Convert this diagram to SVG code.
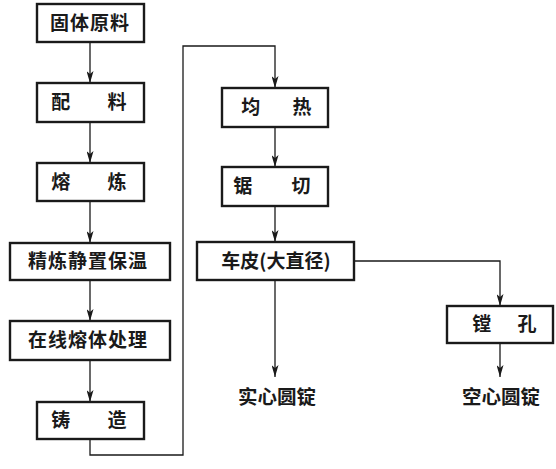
<svg xmlns="http://www.w3.org/2000/svg" width="556" height="469" viewBox="0 0 556 469">
<style>
.box{fill:#fff;stroke:#1a1a1a;stroke-width:2.4}
.ln{fill:none;stroke:#1a1a1a;stroke-width:1.3}
.t{font-family:"Noto Sans CJK SC","Noto Sans CJK TC",sans-serif;font-size:19px;font-weight:bold;fill:#1a1a1a;text-anchor:middle}
.o{font-family:"Noto Sans CJK SC",sans-serif;font-size:19.5px;font-weight:bold;fill:#1a1a1a;text-anchor:middle}
</style>
<defs>
<marker id="a" viewBox="0 0 12 7" refX="12" refY="3.5" markerWidth="12" markerHeight="7" markerUnits="userSpaceOnUse" orient="auto">
<path d="M0,0 L12,3.5 L0,7 L3,3.5 z" fill="#1a1a1a"/>
</marker>
</defs>
<g id="connectors">
<line class="ln" x1="90" y1="42" x2="90" y2="83" marker-end="url(#a)"/>
<line class="ln" x1="90" y1="122" x2="90" y2="163" marker-end="url(#a)"/>
<line class="ln" x1="90" y1="201" x2="90" y2="243" marker-end="url(#a)"/>
<line class="ln" x1="90" y1="280" x2="90" y2="321" marker-end="url(#a)"/>
<line class="ln" x1="90" y1="360" x2="90" y2="402" marker-end="url(#a)"/>
<polyline class="ln" points="90,439 90,455 183,455 183,46 275,46 275,88" marker-end="url(#a)"/>
<line class="ln" x1="275" y1="127" x2="275" y2="167" marker-end="url(#a)"/>
<line class="ln" x1="275" y1="206" x2="275" y2="242" marker-end="url(#a)"/>
<line class="ln" x1="275" y1="280" x2="275" y2="377" marker-end="url(#a)"/>
<polyline class="ln" points="354,261 500,261 500,306" marker-end="url(#a)"/>
<line class="ln" x1="500" y1="343" x2="500" y2="377" marker-end="url(#a)"/>
</g>
<g id="n1"><rect class="box" x="37" y="4" width="107" height="38"/><text class="t" x="90" y="30" letter-spacing="1">固体原料</text></g>
<g id="n2"><rect class="box" x="37" y="83" width="107" height="39"/><text class="t" y="109"><tspan x="63">配</tspan> <tspan x="117">料</tspan></text></g>
<g id="n3"><rect class="box" x="37" y="163" width="107" height="38"/><text class="t" y="189"><tspan x="63">熔</tspan> <tspan x="117">炼</tspan></text></g>
<g id="n4"><rect class="box" x="10" y="243" width="160" height="37"/><text class="t" x="88" y="268" letter-spacing="1">精炼静置保温</text></g>
<g id="n5"><rect class="box" x="10" y="321" width="160" height="39"/><text class="t" x="88" y="347" letter-spacing="1">在线熔体处理</text></g>
<g id="n6"><rect class="box" x="37" y="402" width="107" height="37"/><text class="t" y="427"><tspan x="63">铸</tspan> <tspan x="117">造</tspan></text></g>
<g id="n7"><rect class="box" x="222" y="88" width="106" height="39"/><text class="t" y="114"><tspan x="253">均</tspan> <tspan x="302">热</tspan></text></g>
<g id="n8"><rect class="box" x="222" y="167" width="106" height="39"/><text class="t" y="193"><tspan x="245">锯</tspan> <tspan x="301">切</tspan></text></g>
<g id="n9"><rect class="box" x="197" y="242" width="157" height="38"/><text class="t" x="276" y="268">车皮(大直径)</text></g>
<g id="n10"><rect class="box" x="447" y="306" width="106" height="37"/><text class="t" y="331"><tspan x="484">镗</tspan> <tspan x="527">孔</tspan></text></g>
<g id="n11"><text class="o" x="277" y="404">实心圆锭</text></g>
<g id="n12"><text class="o" x="501" y="404">空心圆锭</text></g>
</svg>
